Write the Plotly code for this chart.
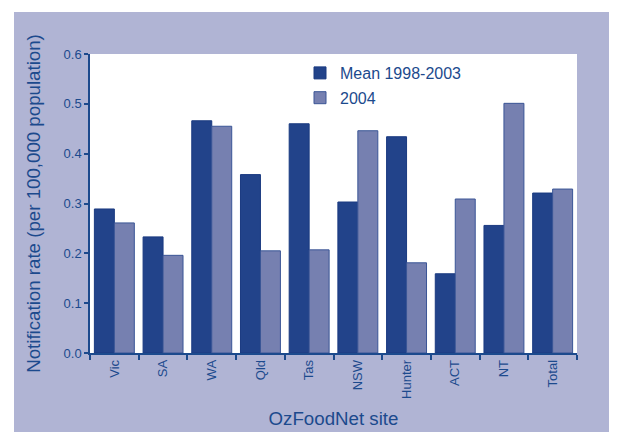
import plotly.graph_objects as go

categories = ["Vic", "SA", "WA", "Qld", "Tas", "NSW", "Hunter", "ACT", "NT", "Total"]
mean_1998_2003 = [0.289, 0.233, 0.466, 0.358, 0.460, 0.303, 0.434, 0.159, 0.256, 0.321]
values_2004 = [0.261, 0.196, 0.455, 0.205, 0.207, 0.446, 0.181, 0.309, 0.501, 0.329]
y_ticks = [0.0, 0.1, 0.2, 0.3, 0.4, 0.5, 0.6]

TEXT = "#1C4A8D"
PANEL = "#B0B4D4"
# page body has an 8px margin, so the figure is drawn 8px in from the top-left;
# the figure is made a bit larger so the panel reaches the window's right/bottom edge
W, H = 617, 432
L, R, T, B = 82, 48, 46, 87
pw, ph = W - L - R, H - T - B


def px_x(p):
    return (p - L) / pw


def px_y(p):
    return (H - B - p) / ph


fig = go.Figure()
fig.add_trace(go.Bar(
    x=categories, y=mean_1998_2003, name="Mean 1998-2003",
    marker=dict(color="#22438A", line=dict(color="#1A3A80", width=1)),
    legendgroup="a",
))
fig.add_trace(go.Bar(
    x=categories, y=values_2004, name="2004",
    marker=dict(color="#7680B0", line=dict(color="#3A5596", width=1)),
    legendgroup="b",
))

font_family = "Liberation Sans, Arial, sans-serif"

fig.update_layout(
    width=W, height=H,
    margin=dict(l=L, r=R, t=T, b=B, pad=0),
    paper_bgcolor=PANEL,
    plot_bgcolor="white",
    barmode="group",
    bargap=0.18,
    bargroupgap=0,
    font=dict(family=font_family, color=TEXT, size=13),
    showlegend=True,
    legend=dict(
        x=px_x(292), y=px_y(48), xanchor="left", yanchor="top",
        bgcolor="rgba(0,0,0,0)", font=dict(size=16, color=TEXT),
        traceorder="grouped", tracegroupgap=1,
        itemclick=False,
    ),
    xaxis=dict(
        showline=True, linecolor=TEXT, linewidth=1.5,
        ticks="outside", ticklen=5, tickcolor=TEXT, tickwidth=1.5,
        tickson="boundaries", tickangle=-90,
        tickfont=dict(size=13, color=TEXT),
        title=dict(text="OzFoodNet site", font=dict(size=18.7, color=TEXT), standoff=14),
        showgrid=False,
    ),
    yaxis=dict(
        range=[0, 0.6], tickvals=y_ticks, tickformat=".1f",
        showline=True, linecolor=TEXT, linewidth=1.5,
        ticks="outside", ticklen=4, tickcolor=TEXT, tickwidth=1.5,
        tickfont=dict(size=13, color=TEXT),
        title=dict(text="Notification rate (per 100,000 population)",
                   font=dict(size=18.7, color=TEXT), standoff=18),
        showgrid=False, zeroline=False,
    ),
    shapes=[
        dict(type="rect", xref="paper", yref="paper",
             x0=px_x(0), x1=px_x(W), y0=px_y(4), y1=px_y(0),
             fillcolor="white", line=dict(width=0), layer="below"),
        dict(type="rect", xref="paper", yref="paper",
             x0=px_x(0), x1=px_x(6), y0=px_y(H), y1=px_y(0),
             fillcolor="white", line=dict(width=0), layer="below"),
    ],
)

fig.write_html("out.html", config={"displayModeBar": False})
